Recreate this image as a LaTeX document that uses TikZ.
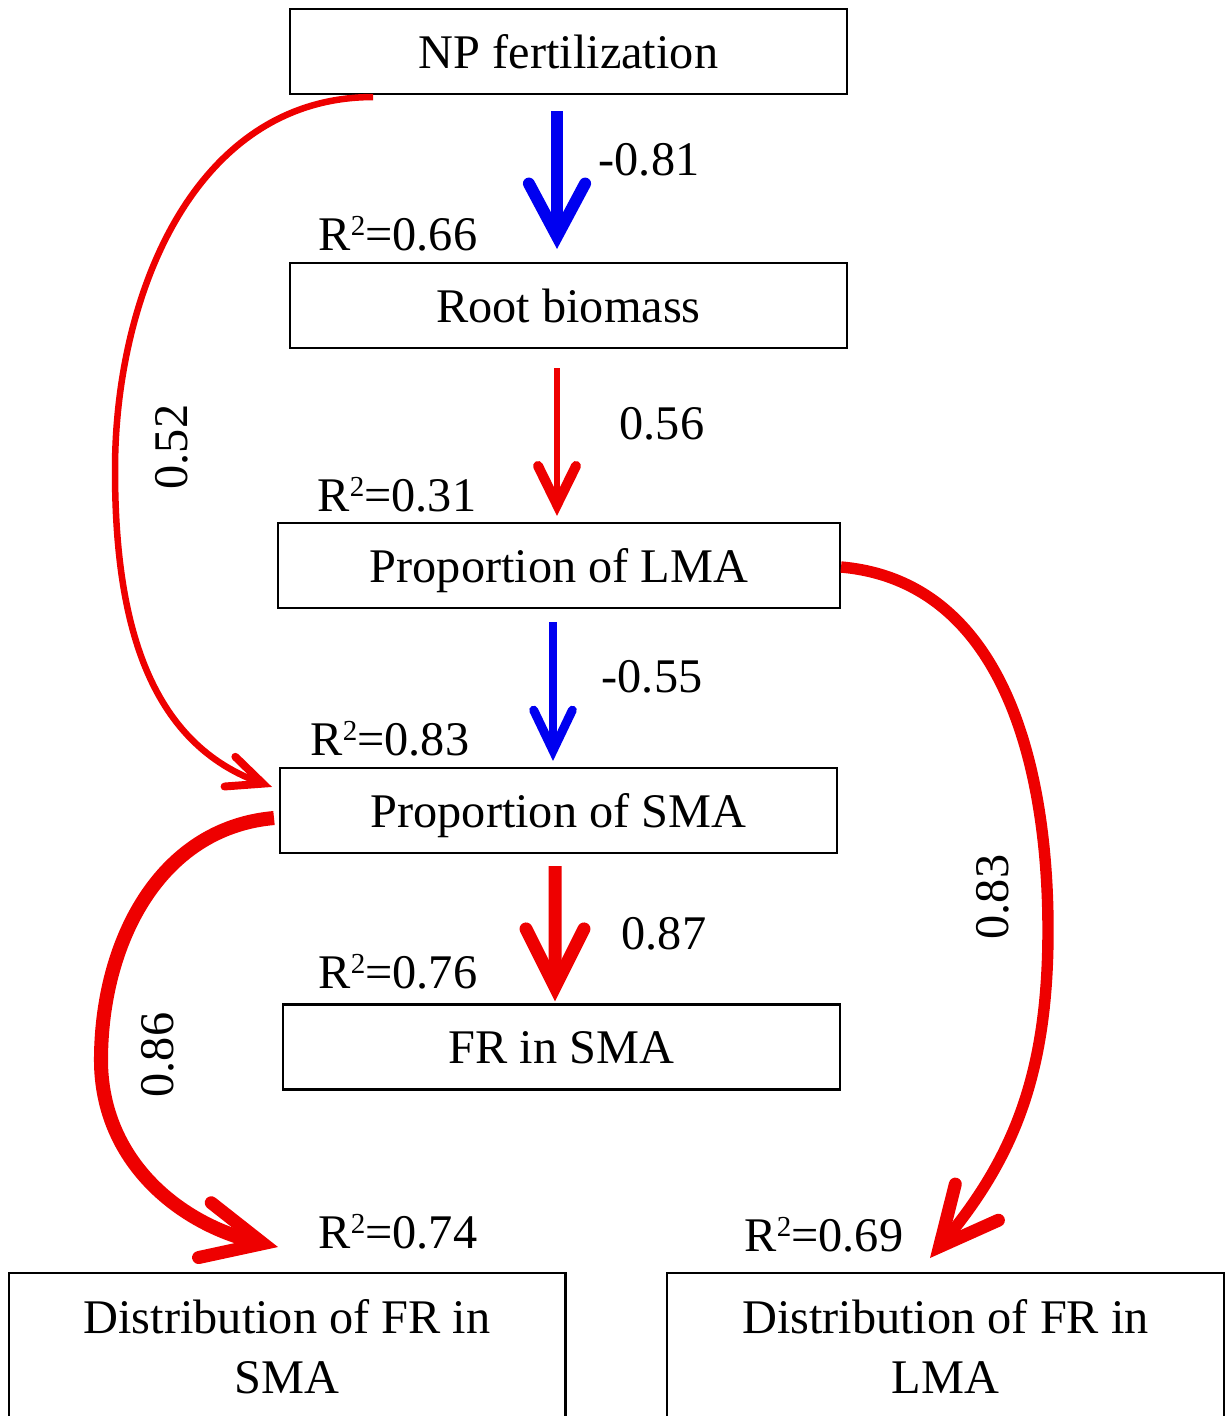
\documentclass[tikz,border=0pt]{standalone}
\usepackage{fontspec}
\setmainfont{Liberation Serif}
\usetikzlibrary{arrows.meta}
\definecolor{pathred}{RGB}{238,0,0}
\definecolor{pathblue}{RGB}{0,0,240}
\newcommand{\rsq}[1]{R\raisebox{8.2pt}{\fontsize{16.5}{16.5}\selectfont 2}=#1}
\begin{document}
\begin{tikzpicture}[x=0.02cm,y=0.02cm,
  box/.style={draw=black, line width=1.2pt, minimum width=11.14cm, minimum height=1.7cm, inner sep=0pt,
    text height=24pt, text depth=5pt, font=\fontsize{27.5}{34}\selectfont},
  bottombox/.style={draw=black, line width=1.2pt, minimum width=11.14cm, minimum height=2.94cm, inner sep=0pt,
    anchor=north, align=center, font=\fontsize{27.5}{34}\selectfont},
  lbl/.style={font=\fontsize{27.5}{34}\selectfont, inner sep=0pt, anchor=base},
  rotlbl/.style={font=\fontsize{27.5}{34}\selectfont, inner sep=0pt, rotate=90},
  redpath/.style={draw=pathred},
  bluepath/.style={draw=pathblue},
  barb/.style n args={3}{-{Straight Barb[length=#1, width=#2, line width=#3, line cap=round, line join=miter]}},
]
\useasboundingbox (0,0) rectangle (1225,-1416);
\clip (0,0) rectangle (1225,-1416);

% boxes
\node[box] (np) at (568.5,-51.5) {NP fertilization};
\node[box] (root) at (568.5,-305.5) {Root biomass};
\node[box, minimum width=11.24cm] (lma) at (559,-565.5) {Proportion of LMA};
\node[box] (sma) at (558.5,-810.5) {Proportion of SMA};
\node[box] (fr) at (561.5,-1047) {FR in SMA};
\node[bottombox] (dsma) at (287,-1272) {Distribution of FR in\\SMA};
\node[bottombox] (dlma) at (945.5,-1272) {Distribution of FR in\\LMA};

% labels
\node[lbl] (r066) at (398,-250) {\rsq{0.66}};
\node[lbl] (k081) at (649,-175) {-0.81};
\node[lbl] (k056) at (662,-439) {0.56};
\node[lbl] (r031) at (397,-511) {\rsq{0.31}};
\node[lbl] (k055) at (652,-692) {-0.55};
\node[lbl] (r083) at (390,-755) {\rsq{0.83}};
\node[lbl] (k087) at (664,-949) {0.87};
\node[lbl] (r076) at (398,-988) {\rsq{0.76}};
\node[lbl] (r074) at (398,-1248) {\rsq{0.74}};
\node[lbl] (r069) at (824,-1251) {\rsq{0.69}};
\node[rotlbl] (k052) at (172,-447) {0.52};
\node[rotlbl] (k083) at (993,-897) {0.83};
\node[rotlbl] (k086) at (158,-1055) {0.86};

% straight arrows
\draw[bluepath, line width=6.8pt, barb={30pt}{32pt}{6.8pt}]
  ([xshift=-0.23cm,yshift=-0.32cm]np.south) -- ([xshift=-0.23cm,yshift=0.26cm]root.north);
\draw[redpath, line width=3.4pt, barb={22pt}{21.6pt}{5.7pt}]
  ([xshift=-0.23cm,yshift=-0.38cm]root.south) -- ([xshift=-0.04cm,yshift=0.12cm]lma.north);
\draw[bluepath, line width=4.5pt, barb={23pt}{22pt}{5.1pt}]
  ([xshift=-0.12cm,yshift=-0.26cm]lma.south) -- ([xshift=-0.11cm,yshift=0.12cm]sma.north);
\draw[redpath, line width=7.4pt, barb={33pt}{33pt}{7.4pt}]
  ([xshift=-0.07cm,yshift=-0.24cm]sma.south) -- ([xshift=-0.13cm,yshift=0.04cm]fr.north);

% curved arrows
\draw[redpath, line width=3.7pt, barb={20pt}{18pt}{4.5pt}]
  ([xshift=-3.91cm,yshift=-0.04cm]np.south) to[out=180,in=90] (115,-470)
  to[out=-90,in=160] ([xshift=-0.14cm,yshift=-0.4cm]sma.north west);
\draw[redpath, line width=6.5pt, barb={33pt}{32pt}{7.4pt}]
  ([yshift=-0.03cm]lma.east) to[out=-5,in=90] (1048,-930)
  to[out=-90,in=50] ([xshift=-0.31cm,yshift=0.28cm]dlma.north);
\draw[redpath, line width=8pt, barb={34pt}{32pt}{7.4pt}]
  ([xshift=-0.1cm,yshift=-0.15cm]sma.west) to[out=185,in=90] (101,-1060)
  to[out=-90,in=167] ([xshift=-0.18cm,yshift=0.5cm]dsma.north);
\end{tikzpicture}
\end{document}
